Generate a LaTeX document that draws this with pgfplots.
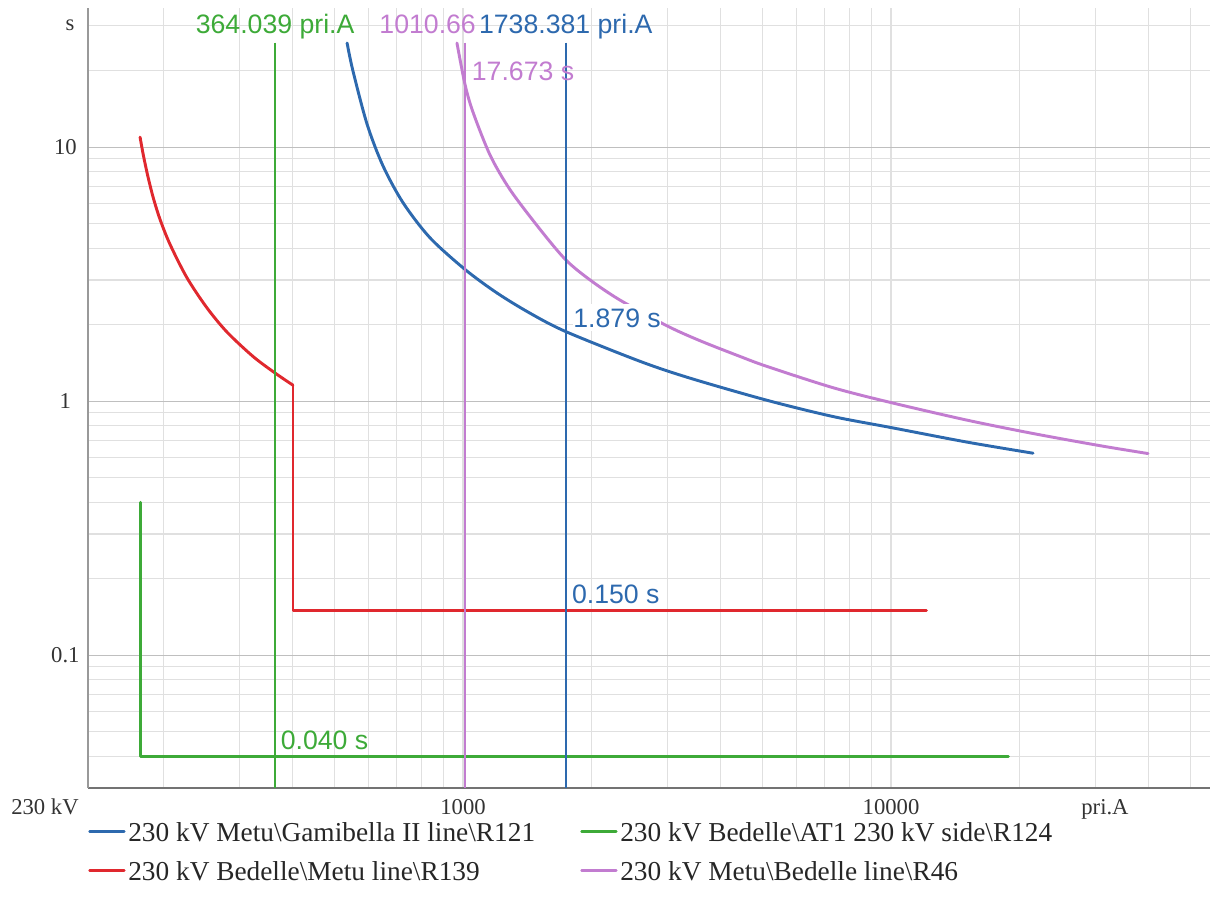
\documentclass[border=0pt]{standalone}
\usepackage{fontspec}
\setmainfont{Liberation Serif}
\newfontfamily\annfont{Liberation Sans}
\usepackage{pgfplots}
\pgfplotsset{compat=1.18}
\definecolor{cblue}{HTML}{2D69AE}
\definecolor{cgreen}{HTML}{3DAA38}
\definecolor{cred}{HTML}{E0282E}
\definecolor{cpurple}{HTML}{C27CD0}
\newcommand{\ann}{\annfont\fontsize{20}{24}\selectfont}
\newcommand{\tickf}{\fontsize{17}{20}\selectfont}

% time-current characteristics (pri.A vs s)
\pgfplotstableread{
I t
176.0 10.95
178.8 9.45
183.0 7.85
188.7 6.37
196.0 5.19
206.8 4.14
226.5 3.06
252.2 2.33
281.0 1.87
323.1 1.50
364.0 1.29
400.6 1.156
}\tblredcurve

\pgfplotstableread{
I t
400.6 1.156
400.6 0.150
12100 0.150
}\tblredstep

\pgfplotstableread{
I t
176 0.40
176 0.04
18800 0.04
}\tblgreen

\pgfplotstableread{
I t
536 25.7
553 20.0
597 12.3
650 8.45
724 6.05
837 4.40
1011 3.30
1201 2.665
1434 2.22
1738.381 1.879
2592 1.435
3392 1.232
5132 1.008
7320 0.870
10054 0.786
15050 0.690
21470 0.624
}\tblblue

\pgfplotstableread{
I t
968 25.7
1010.66 17.673
1055 13.75
1157 9.3
1288 6.8
1513 4.75
1738.381 3.60
1981 3.00
2327 2.50
2996 1.98
3578 1.73
4438 1.50
5132 1.37
7320 1.13
10054 0.985
15050 0.842
21470 0.746
30780 0.668
39860 0.622
}\tblpurple

\begin{document}
\begin{tikzpicture}
\useasboundingbox (-66pt,-95.25pt) rectangle (843.75pt,591pt);
\begin{axis}[
  scale only axis, width=841.5pt, height=585pt,
  xmode=log, ymode=log, log basis x=10, log basis y=10,
  xmin=133, xmax=55640, ymin=0.03, ymax=35.3,
  axis x line*=bottom, axis y line*=left,
  x axis line style={draw=black!55, line width=1.2pt},
  y axis line style={draw=black!40, line width=1pt},
  clip=false,
  xtick={1000,10000}, xticklabels={1000,10000},
  ytick={0.1,1,10}, yticklabels={0.1,1,10},
  minor xtick={200,300,400,500,600,700,800,900,1000,2000,3000,4000,5000,6000,7000,8000,9000,10000,20000,30000,40000,50000},
  minor ytick={0.04,0.05,0.06,0.07,0.08,0.09,0.2,0.3,0.4,0.5,0.6,0.7,0.8,0.9,2,3,4,5,6,7,8,9,20,30},
  grid=both, xmajorgrids=false,
  major grid style={draw=black!25, line width=0.8pt},
  minor grid style={draw=black!12, line width=0.8pt},
  major tick length=0pt, minor tick length=0pt,
  ticklabel style={font=\tickf, text=black!80},
  xticklabel style={anchor=base, yshift=-19.5pt},
  yticklabel style={anchor=center, xshift=-17pt},
  legend columns=2,
  legend cell align=left,
  legend style={at={(axis description cs:0,-0.036)}, anchor=north west,
    draw=none, fill=none, inner sep=0pt, row sep=7pt, column sep=0pt,
    font=\fontsize{20.5}{24}\selectfont, text=black!85,
    nodes={inner sep=2pt}},
  legend image code/.code={\draw[#1, line width=2pt] (0pt,0pt) -- (26pt,0pt);},
  every axis plot/.append style={line join=round, line cap=round},
]
% legend keys
\addlegendimage{cblue}
\addlegendentry{\makebox[337pt][l]{\strut 230 kV Metu\textbackslash Gamibella II line\textbackslash R121}}
\addlegendimage{cgreen}
\addlegendentry{\strut 230 kV Bedelle\textbackslash AT1 230 kV side\textbackslash R124}
\addlegendimage{cred}
\addlegendentry{\makebox[337pt][l]{\strut 230 kV Bedelle\textbackslash Metu line\textbackslash R139}}
\addlegendimage{cpurple}
\addlegendentry{\strut 230 kV Metu\textbackslash Bedelle line\textbackslash R46}

% relay curves
\addplot[cred, line width=2.2pt, smooth, tension=0.5, forget plot] table[x=I, y=t] {\tblredcurve};
\addplot[cred, line width=2.2pt, forget plot] table[x=I, y=t] {\tblredstep};
\addplot[cgreen, line width=2.2pt, forget plot] table[x=I, y=t] {\tblgreen};
\addplot[cblue, line width=2.2pt, smooth, tension=0.5, forget plot] table[x=I, y=t] {\tblblue};
\addplot[cpurple, line width=2.2pt, smooth, tension=0.5, forget plot] table[x=I, y=t] {\tblpurple};

% fault current cursors
\addplot[cgreen, line width=1.5pt, line cap=butt, forget plot] coordinates {(364.039,25.8) (364.039,0.03)};
\addplot[cpurple, line width=1.5pt, line cap=butt, forget plot] coordinates {(1010.66,25.8) (1010.66,0.03)};
\addplot[cblue, line width=1.5pt, line cap=butt, forget plot] coordinates {(1738.381,25.8) (1738.381,0.03)};

% cursor readouts
\node[anchor=base, text=cgreen, inner sep=0pt, font=\ann] at (axis cs:364.039,28.1) {364.039 pri.A};
\node[anchor=base, text=cblue, inner sep=0pt, font=\ann] (bl) at (axis cs:1738.381,28.1) {1738.381 pri.A};
\node[anchor=base east, text=cpurple, inner sep=0pt, font=\ann, xshift=-2pt] at (bl.base west) {1010.66};
\node[anchor=base west, text=cpurple, inner sep=0pt, font=\ann, xshift=5pt, yshift=3pt] at (axis cs:1010.66,17.673) {17.673 s};
\node[anchor=base west, text=cblue, fill=white, inner xsep=0pt, inner ysep=3pt, font=\ann, xshift=5.5pt, yshift=3.4pt] at (axis cs:1738.381,1.879) {1.879 s};
\node[anchor=base west, text=cblue, inner sep=0pt, font=\ann, xshift=4.5pt, yshift=5pt] at (axis cs:1738.381,0.150) {0.150 s};
\node[anchor=base west, text=cgreen, inner sep=0pt, font=\ann, xshift=4pt, yshift=5pt] at (axis cs:364.039,0.04) {0.040 s};

% axis unit captions
\node[anchor=base, font=\tickf, text=black!80, inner sep=0pt, xshift=-13.5pt, yshift=-16.5pt] at (axis description cs:0,1) {s};
\node[anchor=base, font=\tickf, text=black!80, inner sep=0pt, xshift=-32.25pt, yshift=-19.5pt] at (axis description cs:0,0) {230 kV};
\node[anchor=base, font=\tickf, text=black!80, inner sep=0pt, yshift=-19.5pt] at (axis cs:31623,0.03) {pri.A};
\end{axis}
\end{tikzpicture}
\end{document}
